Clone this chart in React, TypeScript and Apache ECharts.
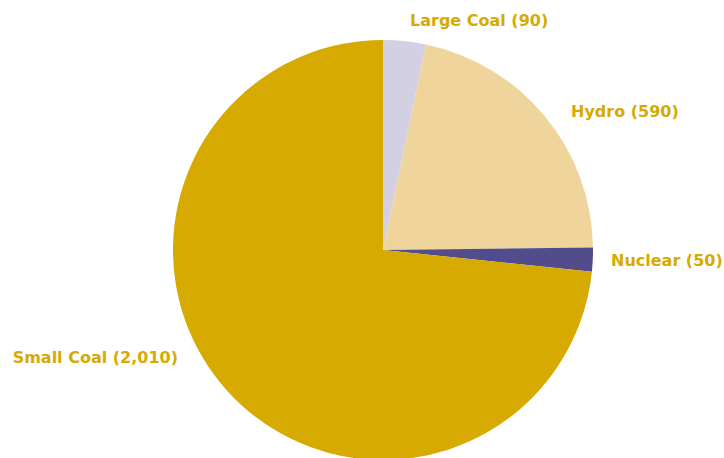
import React, { useEffect, useRef } from "react";
import * as echarts from "echarts";

const categories = ["Large Coal", "Hydro", "Nuclear", "Small Coal"];
const values = [90, 590, 50, 2010];
const colors = ["#D3D0E3", "#EFD59C", "#524B8C", "#D6AA00"];

const labelPos: { x: number; y: number; align: "left" | "right" }[] = [
  { x: 410, y: 20, align: "left" },
  { x: 571, y: 111, align: "left" },
  { x: 611, y: 260, align: "left" },
  { x: 178, y: 357, align: "right" },
];

function fmt(n: number) {
  return n.toLocaleString("en-US");
}

export default function App() {
  const ref = useRef<HTMLDivElement>(null);
  useEffect(() => {
    if (!ref.current) return;
    const chart = echarts.init(ref.current, undefined, { renderer: "svg" });
    chart.setOption({
      animation: false,
      backgroundColor: "#ffffff",
      series: [
        {
          type: "pie",
          center: [383, 250],
          radius: 210,
          startAngle: 90,
          clockwise: true,
          avoidLabelOverlap: false,
          itemStyle: { borderColor: "#ffffff", borderWidth: 0 },
          label: {
            show: true,
            position: "outside",
            formatter: (p: any) => `${p.name} (${fmt(p.value)})`,
            color: "#D6AA00",
            fontFamily: "DejaVu Sans",
            fontWeight: "bold",
            fontSize: 16,
          },
          labelLine: { show: false },
          labelLayout: (params: any) => {
            const lp = labelPos[params.dataIndex];
            return { x: lp.x, y: lp.y, align: lp.align, verticalAlign: "middle" };
          },
          emphasis: { disabled: true },
          data: categories.map((c, i) => ({
            name: c,
            value: values[i],
            itemStyle: { color: colors[i] },
          })),
        },
      ],
    });
    return () => chart.dispose();
  }, []);
  return (
    <div
      ref={ref}
      style={{ position: "absolute", left: 0, top: 0, width: 724, height: 458 }}
    />
  );
}
